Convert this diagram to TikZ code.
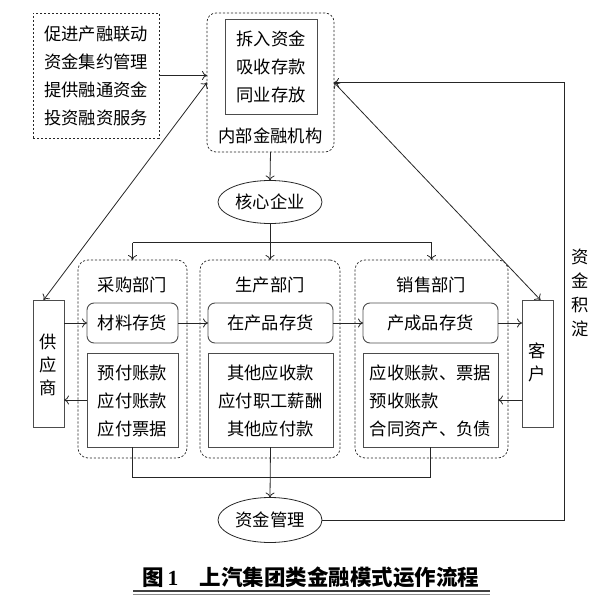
\documentclass[tikz,border=0pt]{standalone}
\usepackage{fontspec}
\setmainfont{Noto Sans CJK SC}
\newfontfamily\numfont{Liberation Serif}
\usetikzlibrary{arrows.meta,shapes.geometric,calc}
\begin{document}
\begin{tikzpicture}[x=1pt,y=-1pt,
  every node/.style={inner sep=0pt,outer sep=0pt},
  txt/.style={font=\fontsize{17.3}{28}\selectfont,align=center},
  dbox/.style={draw=black!85,line width=0.7pt,dash pattern=on 2.2pt off 1.8pt},
  sbox/.style={draw=black!70,line width=0.9pt},
  ell/.style={draw=black!85,line width=0.8pt,ellipse},
  ln/.style={draw=black!85,line width=0.8pt},
  arr/.style={ln,-{To[length=5pt,width=9pt]}},
  arrb/.style={ln,{To[length=5pt,width=9pt]}-{To[length=5pt,width=9pt]}}
]
\useasboundingbox (0,0) rectangle (600,612);
% top-left box
\node[dbox,minimum width=126,minimum height=125,txt] (tl) at (96,75.5)
  {促进产融联动\\资金集约管理\\提供融通资金\\投资融资服务};
% internal finance institution
\node[dbox,rounded corners=9pt,minimum width=127,minimum height=139] (fin) at (270.5,82.5) {};
\node[sbox,minimum width=92,minimum height=95,txt] (finin) at (271,66.5) {拆入资金\\吸收存款\\同业存放};
\node[txt] (finlab) at (270.5,136) {内部金融机构};
% core enterprise
\node[ell,minimum width=104,minimum height=43,txt] (core) at (270,202) {核心企业};
% departments
\node[dbox,rounded corners=10pt,minimum width=109,minimum height=198] (cg) at (132.5,359) {};
\node[dbox,rounded corners=10pt,minimum width=140,minimum height=198] (sc) at (270,359) {};
\node[dbox,rounded corners=10pt,minimum width=153,minimum height=198] (xs) at (431.5,359) {};
\node[txt] (cgt) at (132.5,285) {采购部门};
\node[txt] (sct) at (270,285) {生产部门};
\node[txt] (xst) at (431.5,285) {销售部门};
% inventory boxes
\node[sbox,rounded corners=7pt,minimum width=91,minimum height=40,txt] (cgi) at (132.5,323) {材料存货};
\node[sbox,rounded corners=7pt,minimum width=125,minimum height=40,txt] (sci) at (270.5,323) {在产品存货};
\node[sbox,rounded corners=7pt,minimum width=135,minimum height=40,txt] (xsi) at (430.5,323) {产成品存货};
% lower boxes
\node[sbox,minimum width=91,minimum height=94] (cgl) at (132.5,400) {};
\node[txt] (cglt) at (132.5,401) {预付账款\\应付账款\\应付票据};
\node[sbox,minimum width=125,minimum height=94] (scl) at (270.5,400) {};
\node[txt] (sclt) at (270.5,401) {其他应收款\\应付职工薪酬\\其他应付款};
\node[sbox,minimum width=135,minimum height=94] (xsl) at (430.5,400) {};
\node[txt,align=left] (xslt) at (430.5,401) {应收账款、票据\\预收账款\\合同资产、负债};
% supplier and customer
\node[sbox,minimum width=31,minimum height=127] (sup) at (48.5,363.5) {};
\node[font=\fontsize{17.3}{23}\selectfont,align=center] (supt) at (48.5,365) {供\\应\\商};
\node[sbox,minimum width=31,minimum height=127] (cus) at (537.5,363.5) {};
\node[font=\fontsize{17.3}{23}\selectfont,align=center] (cust) at (537.5,362) {客\\户};
% fund management
\node[ell,minimum width=104,minimum height=45,txt] (zj) at (270,520) {资金管理};
% label
\node[font=\fontsize{17.3}{24}\selectfont,align=center] (jd) at (580,293) {资\\金\\积\\淀};
% caption
\node[font=\fontsize{21.5}{26}\selectfont\bfseries] (cap) at (311,577) {图\,{\numfont 1}\quad 上汽集团类金融模式运作流程};
\coordinate (ul1) at (133,591);
\coordinate (ul2) at (490,591);
\draw[black!75,line width=1.3pt] (ul1) -- (ul2);
\draw[black!45,line width=0.7pt] ([yshift=-3.2pt]ul1) -- ([yshift=-3.2pt]ul2);

% connectors
\draw[arr] (tl.east) -- (fin.west |- tl.east);
\draw[arrb] ([xshift=-5pt]sup.north) -- (fin.west);
\draw[arrb] ([xshift=3pt]cus.north) -- (fin.east);
\coordinate (rc) at (564,0);
\draw[arr] (zj.east) -- (zj.east -| rc) -- (rc |- fin.east) -- (fin.east);
\draw[arr] (fin.south) -- (core.north);
\draw[ln] (core.south) -- ++(0,19) coordinate (br);
\draw[ln] (br -| cg.north) -- (br -| xs.north);
\draw[arr] (br -| cg.north) -- (cg.north);
\draw[arr] (br) -- (sc.north);
\draw[arr] (br -| xs.north) -- (xs.north);
\draw[arr] (sup.east |- cgi.west) -- (cgi.west);
\draw[arr] (cgi.east) -- (sci.west);
\draw[arr] (sci.east) -- (xsi.west);
\draw[arr] (xsi.east) -- (cus.west |- xsi.east);
\draw[arr] (cgl.west) -- (sup.east |- cgl.west);
\draw[arr] (cus.west |- xsl.east) -- (xsl.east);
\draw[ln] (cgl.south) -- ++(0,30) -| (xsl.south);
\draw[arr] (scl.south) -- (zj.north);
\end{tikzpicture}
\end{document}
